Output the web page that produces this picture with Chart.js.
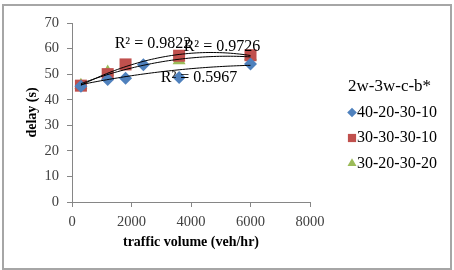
<!DOCTYPE html>
<html lang="en">
<head>
  <meta charset="UTF-8" />
  <title>delay vs traffic volume</title>
  <script src="https://cdn.jsdelivr.net/npm/chart.js"></script>
  <style>
    body { margin: 0; background: #ffffff; }
    .wrap { position: relative; width: 454px; height: 270px; }
    .frame {
      position: absolute;
      left: 2px; top: 4px;
      width: 446px; height: 262px;
      border: 2px solid #a6a6a6;
      pointer-events: none;
    }
  </style>
</head>
<body>
<div class="wrap">
  <canvas id="delayChart" width="454" height="270"></canvas>
  <div class="frame"></div>
</div>

<script>
  // values
  const seriesNames = ['40-20-30-10', '30-30-30-10', '30-20-30-20'];
  const legendTitle = '2w-3w-c-b*';

  const volA = [300, 1200, 1800, 2400, 3600, 6000];
  const delayA = [45.3, 47.9, 48.4, 53.7, 48.7, 54.0];

  const volB = [300, 1200, 1800, 3600, 6000];
  const delayB = [45.5, 50.0, 53.8, 57.2, 57.4];

  const volC = [300, 1200, 3600, 6000];
  const delayC = [45.7, 50.8, 55.3, 56.9];

  const rLabels = ['R\u00b2 = 0.9822', 'R\u00b2 = 0.9726', 'R\u00b2 = 0.5967'];
  const rLabelX = [2720, 5040, 4270];
  const rLabelY = [61.8, 60.7, 48.6];

  const xTicks = [0, 2000, 4000, 6000, 8000];
  const yTicks = [0, 10, 20, 30, 40, 50, 60, 70];

  const colors = ['#4f81bd', '#c0504d', '#9bbb59'];
  const styles = ['rectRot', 'rect', 'triangle'];
  const radii = [6.5, 8.5, 7.5];

  // 2nd order polynomial trendline (least squares), like the spreadsheet one
  function polyFit(xs, ys) {
    let s = [0, 0, 0, 0, 0], t = [0, 0, 0];
    for (let i = 0; i < xs.length; i++) {
      const x = xs[i] / 1000, y = ys[i];
      let p = 1;
      for (let k = 0; k < 5; k++) { s[k] += p; if (k < 3) t[k] += p * y; p *= x; }
    }
    const m = [[s[0], s[1], s[2], t[0]], [s[1], s[2], s[3], t[1]], [s[2], s[3], s[4], t[2]]];
    for (let c = 0; c < 3; c++) {
      for (let r = c + 1; r < 3; r++) {
        const f = m[r][c] / m[c][c];
        for (let k = c; k < 4; k++) m[r][k] -= f * m[c][k];
      }
    }
    const a = [0, 0, 0];
    for (let r = 2; r >= 0; r--) {
      let v = m[r][3];
      for (let k = r + 1; k < 3; k++) v -= m[r][k] * a[k];
      a[r] = v / m[r][r];
    }
    return x => a[0] + a[1] * (x / 1000) + a[2] * (x / 1000) * (x / 1000);
  }

  function trendPoints(xs, ys) {
    const f = polyFit(xs, ys);
    const lo = Math.min(...xs), hi = Math.max(...xs);
    const pts = [];
    for (let i = 0; i <= 60; i++) {
      const x = lo + (hi - lo) * i / 60;
      pts.push({ x: x, y: f(x) });
    }
    return pts;
  }

  const allX = [volA, volB, volC];
  const allY = [delayA, delayB, delayC];

  const datasets = [];
  for (let i = 0; i < 3; i++) {
    datasets.push({
      label: seriesNames[i],
      data: allX[i].map((x, j) => ({ x: x, y: allY[i][j] })),
      pointStyle: styles[i],
      pointRadius: radii[i],
      pointBackgroundColor: colors[i],
      pointBorderColor: colors[i],
      pointBorderWidth: 0,
      showLine: false,
      order: 1
    });
  }
  for (let i = 0; i < 3; i++) {
    datasets.push({
      label: 'trend ' + i,
      data: trendPoints(allX[i], allY[i]),
      showLine: true,
      borderColor: '#000000',
      borderWidth: 1,
      pointRadius: 0,
      tension: 0,
      order: 0
    });
  }

  const serif = '"Liberation Serif", "Times New Roman", serif';

  // legend on the right, drawn by hand
  const sideLegend = {
    id: 'sideLegend',
    afterDraw(chart) {
      const ctx = chart.ctx;
      ctx.save();
      ctx.fillStyle = '#000';
      ctx.textBaseline = 'middle';
      ctx.textAlign = 'left';
      ctx.font = '17px ' + serif;
      ctx.fillText(legendTitle, 348, 87);
      ctx.font = '16px ' + serif;
      const rowY = [112.5, 138, 163.5];
      const legR = [4.8, 5.8, 5.2];
      for (let i = 0; i < 3; i++) {
        ctx.fillStyle = colors[i];
        ctx.strokeStyle = colors[i];
        Chart.helpers.drawPoint(ctx, { pointStyle: styles[i], radius: legR[i], borderWidth: 0 }, 352, rowY[i]);
        ctx.fillStyle = '#000';
        ctx.fillText(seriesNames[i], 357, rowY[i]);
      }
      ctx.restore();
    }
  };

  // R squared texts
  const rText = {
    id: 'rText',
    afterDatasetsDraw(chart) {
      const ctx = chart.ctx;
      const xs = chart.scales.x, ys = chart.scales.y;
      ctx.save();
      ctx.fillStyle = '#000';
      ctx.font = '16px ' + serif;
      ctx.textAlign = 'center';
      ctx.textBaseline = 'middle';
      for (let i = 0; i < rLabels.length; i++) {
        ctx.fillText(rLabels[i], xs.getPixelForValue(rLabelX[i]), ys.getPixelForValue(rLabelY[i]));
      }
      ctx.restore();
    }
  };

  new Chart(document.getElementById('delayChart'), {
    type: 'scatter',
    data: { datasets: datasets },
    options: {
      responsive: false,
      animation: false,
      layout: { padding: { left: 4, right: 144, top: 23, bottom: 18 } },
      plugins: {
        legend: { display: false },
        tooltip: { enabled: false }
      },
      scales: {
        x: {
          type: 'linear',
          min: 0, max: 8000,
          afterBuildTicks: s => { s.ticks = xTicks.map(v => ({ value: v })); },
          afterFit: s => { s.height = 50; },
          border: { color: '#868686', width: 1 },
          grid: { display: true, drawOnChartArea: false, tickLength: 5, color: '#868686' },
          ticks: {
            color: '#404040', padding: 6,
            font: { family: serif, size: 14.5 },
            callback: v => String(v)
          },
          title: {
            display: true,
            text: 'traffic volume (veh/hr)',
            color: '#000',
            font: { family: serif, size: 14, weight: 'bold' },
            padding: { top: 0, bottom: 1 }
          }
        },
        y: {
          type: 'linear',
          min: 0, max: 70,
          afterBuildTicks: s => { s.ticks = yTicks.map(v => ({ value: v })); },
          afterFit: s => { s.width = 68; },
          border: { color: '#868686', width: 1 },
          grid: { display: true, drawOnChartArea: false, tickLength: 5, color: '#868686' },
          ticks: { color: '#404040', padding: 8, font: { family: serif, size: 14.5 } },
          title: {
            display: true,
            text: 'delay (s)',
            color: '#000',
            font: { family: serif, size: 14, weight: 'bold' },
            padding: { top: 20, bottom: 0 }
          }
        }
      }
    },
    plugins: [rText, sideLegend]
  });
</script>
</body>
</html>
